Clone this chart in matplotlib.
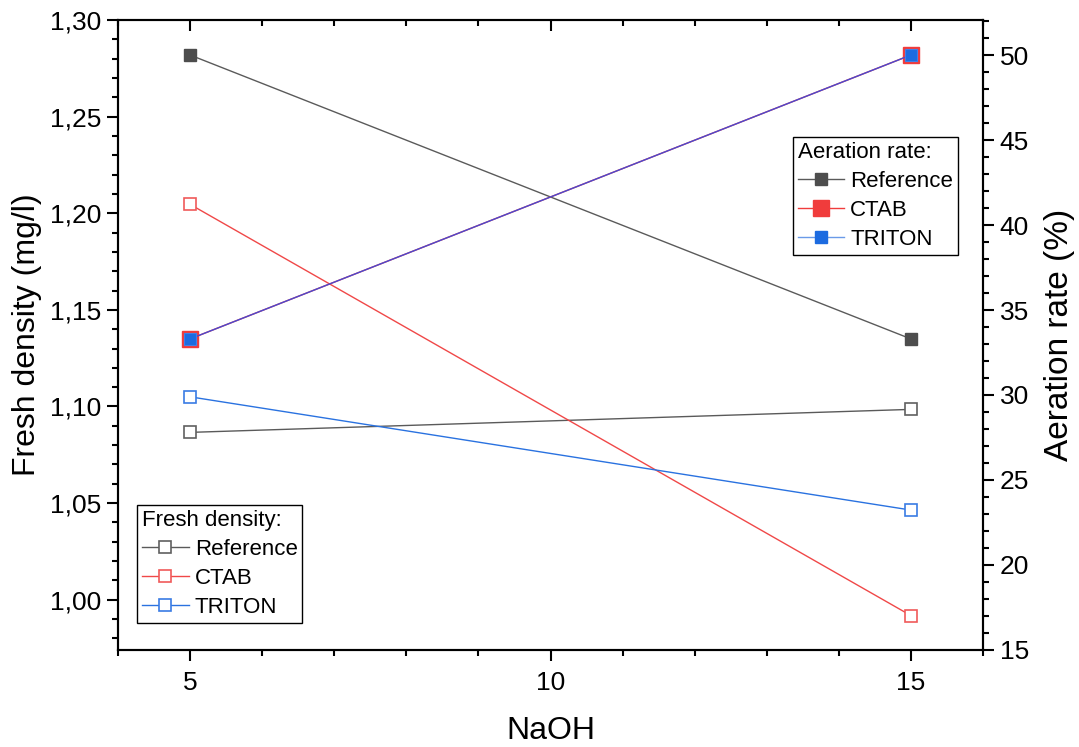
import matplotlib
matplotlib.use("Agg")
import matplotlib.pyplot as plt
from matplotlib.ticker import MultipleLocator, FuncFormatter
from matplotlib.lines import Line2D

plt.rcParams["font.family"] = ["Liberation Sans", "DejaVu Sans"]

# --- data ---------------------------------------------------------------------
naoh = [5, 15]
series = ["Reference", "CTAB", "TRITON"]
density_ref = [1.0866, 1.0985]
density_ctab = [1.2046, 0.9918]
density_triton = [1.1050, 1.0464]
aeration_ref = [50.0, 33.3]
aeration_ctab = [33.3, 50.0]
aeration_triton = [33.3, 50.0]

GRAY_LINE = "#5a5a5a"
GRAY_FACE = "#4d4d4d"
RED = "#f03c3c"
BLUE = "#1c6be0"

fig = plt.figure(figsize=(10.79, 7.47), dpi=100)
ax = fig.add_axes([0.1094, 0.1299, 0.8016, 0.8433])
ax2 = ax.twinx()

# fresh density (open squares, left axis)
d_handles = []
for vals, col, edge, lab in [(density_ref, GRAY_LINE, "#606060", "Reference"),
                             (density_ctab, "#f04848", "#f05a5a", "CTAB"),
                             (density_triton, "#2a72e0", "#3a7ce4", "TRITON")]:
    h, = ax.plot(naoh, vals, color=col, lw=1.0, marker="s", ms=8.5,
                 mfc="white", mec=edge, mew=1.2, label=lab)
    d_handles.append(h)

# aeration rate (filled squares, right axis)
a_handles = []
h, = ax2.plot(naoh, aeration_ref, color=GRAY_LINE, lw=1.0, marker="s", ms=9,
              mfc=GRAY_FACE, mec=GRAY_FACE, label="Reference")
a_handles.append(h)
h, = ax2.plot(naoh, aeration_ctab, color=RED, lw=1.0, marker="s", ms=12,
              mfc=RED, mec=RED, label="CTAB")
a_handles.append(h)
h, = ax2.plot(naoh, aeration_triton, color="#4a4ad0", lw=1.0, marker="s", ms=8.5,
              mfc=BLUE, mec="#3f80e8", mew=0.8)
a_handles.append(Line2D([], [], color="#6a9ae8", lw=1.0, marker="s", ms=8.5,
                        mfc=BLUE, mec=BLUE))

ax.set_xlim(4, 16)
ax.set_ylim(0.974, 1.30)
ax2.set_ylim(15, 52.06)

ax.xaxis.set_major_locator(MultipleLocator(5))
ax.xaxis.set_minor_locator(MultipleLocator(1))
ax.yaxis.set_major_locator(MultipleLocator(0.05))
ax.yaxis.set_minor_locator(MultipleLocator(0.01))
ax2.yaxis.set_major_locator(MultipleLocator(5))
ax2.yaxis.set_minor_locator(MultipleLocator(1))
ax.yaxis.set_major_formatter(FuncFormatter(lambda v, p: f"{v:.2f}".replace(".", ",")))

for a in (ax, ax2):
    for s in a.spines.values():
        s.set_linewidth(1.5)

ax.tick_params(axis="x", which="both", direction="out", top=True, labelsize=19, pad=7)
ax.tick_params(axis="y", which="both", direction="out", labelsize=19, pad=4)
ax.tick_params(which="major", length=8, width=1.5)
ax.tick_params(which="minor", length=4, width=1.5)
# top ticks point inward
for t in ax.xaxis.get_major_ticks() + ax.xaxis.get_minor_ticks():
    t.tick2line.set_marker(3)
ax2.tick_params(axis="y", which="both", direction="out", labelsize=19, pad=4)
ax2.tick_params(which="major", length=8, width=1.5)
ax2.tick_params(which="minor", length=4, width=1.5)

ax.set_xlabel("NaOH", fontsize=23, labelpad=15)
ax.set_ylabel("Fresh density (mg/l)", fontsize=23, labelpad=6)
ax2.set_ylabel("Aeration rate (%)", fontsize=24, labelpad=11)

leg_kw = dict(loc="upper left", borderaxespad=0, fontsize=16, title_fontsize=16,
              alignment="left", fancybox=False, framealpha=1, edgecolor="black",
              handlelength=2.1, handletextpad=0.27, labelspacing=0.36,
              borderpad=0.22)
leg_a = ax2.legend(a_handles, series, title="Aeration rate:",
                   bbox_to_anchor=(0.780, 0.814), **leg_kw)
leg_a.get_frame().set_linewidth(1.0)
ax2.add_artist(leg_a)
leg_d = ax2.legend(d_handles, series, title="Fresh density:",
                   bbox_to_anchor=(0.022, 0.230), **leg_kw)
leg_d.get_frame().set_linewidth(1.0)

fig.savefig("out.png", dpi=100)
